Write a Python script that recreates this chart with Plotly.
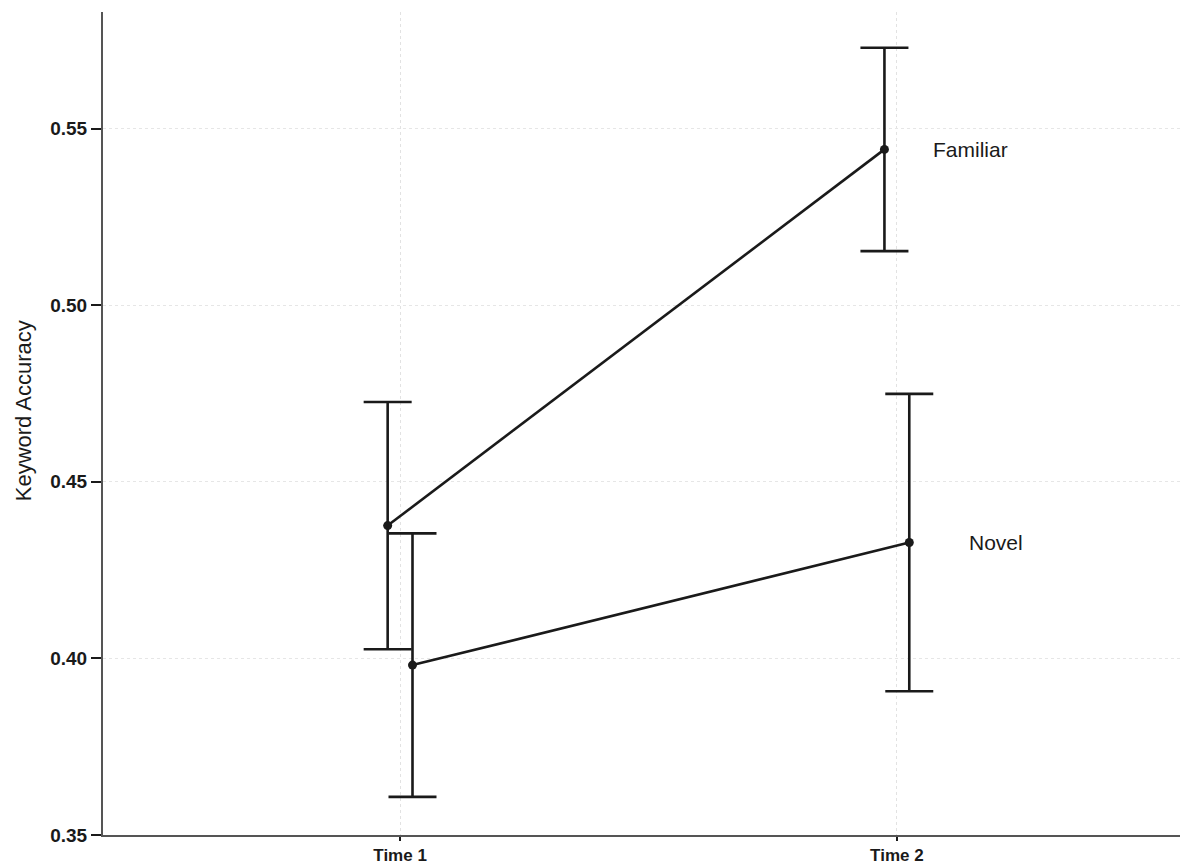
import plotly.graph_objects as go

times = ["Time 1", "Time 2"]
time_pos = [1, 2]
groups = ["Familiar", "Novel"]
familiar_mean = [0.4376, 0.5441]
familiar_err = [0.0350, 0.0288]
novel_mean = [0.3981, 0.4328]
novel_err = [0.0373, 0.0421]
dodge = {"Familiar": -0.025, "Novel": 0.025}
label_offset = {"Familiar": 0.068, "Novel": 0.142}
y_ticks = [0.35, 0.40, 0.45, 0.50, 0.55]

means = {"Familiar": familiar_mean, "Novel": novel_mean}
errs = {"Familiar": familiar_err, "Novel": novel_err}

ink = "#1a1a1a"
fig = go.Figure()
for g in groups:
    xs = [p + dodge[g] for p in time_pos]
    fig.add_trace(go.Scatter(
        x=xs, y=means[g], mode="lines+markers", name=g,
        line=dict(color=ink, width=2.6),
        marker=dict(color=ink, size=9),
        error_y=dict(type="data", array=errs[g], visible=True,
                     color=ink, thickness=2.6, width=24),
        showlegend=False,
    ))
    fig.add_annotation(x=time_pos[-1] + label_offset[g],
                       y=means[g][-1], text=g, showarrow=False,
                       xanchor="left", yanchor="middle",
                       font=dict(family="Liberation Sans, Arial", size=21, color=ink))

# y-axis title as a rotated annotation (placed slightly above plot centre, as in the reference)
fig.add_annotation(x=-0.074, y=0.516, xref="paper", yref="paper",
                   text="Keyword Accuracy", textangle=-90, showarrow=False,
                   xanchor="center", yanchor="middle",
                   font=dict(family="Liberation Sans, Arial", size=22, color=ink))

fig.update_layout(
    width=1180, height=856,
    margin=dict(l=95, r=3, t=4, b=29),
    paper_bgcolor="white", plot_bgcolor="white",
    font=dict(family="Liberation Sans, Arial", color=ink),
)
fig.update_xaxes(
    range=[0.402, 2.58], tickvals=time_pos, ticktext=times,
    showline=True, linecolor="#555", linewidth=2,
    ticks="outside", ticklen=4, tickwidth=2, tickcolor=ink,
    showgrid=True, gridcolor="#e2e2e2", griddash="dot", gridwidth=1,
    tickfont=dict(size=17, color=ink, weight="bold"), zeroline=False,
    automargin=False,
)
fig.update_yaxes(
    range=[0.35, 0.583], tickvals=y_ticks, ticktext=[f"{v:.2f}" for v in y_ticks],
    showline=True, linecolor="#555", linewidth=2,
    ticks="outside", ticklen=10, tickwidth=2, tickcolor=ink,
    showgrid=True, gridcolor="#e6e6e6", griddash="dot", gridwidth=1,
    tickfont=dict(size=19, color=ink, weight="bold"), zeroline=False,
    automargin=False,
)

fig.write_html("out.html")
